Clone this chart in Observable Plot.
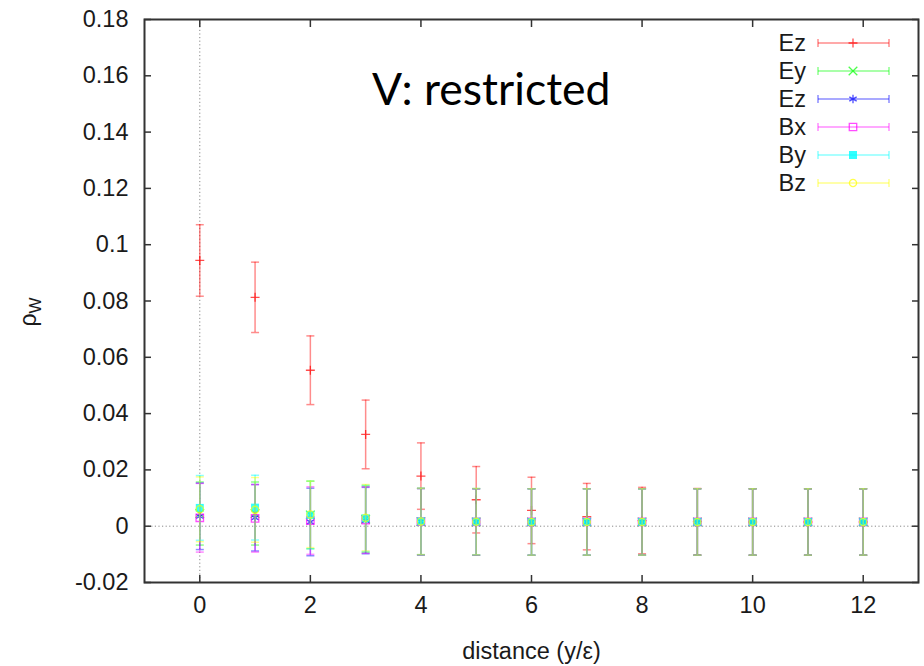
<!DOCTYPE html>
<html><head><meta charset="utf-8">
<script src="https://cdn.jsdelivr.net/npm/d3@7"></script>
<script src="https://cdn.jsdelivr.net/npm/@observablehq/plot@0.6"></script>
<style>
body{margin:0;background:#fff;}
#wrap{position:relative;width:924px;height:666px;overflow:hidden;background:#fff;}
</style>
</head><body><div id="wrap"></div>
<script>
// ---- data ----
const distance = [0,1,2,3,4,5,6,7,8,9,10,11,12];
const seriesNames = ["Ez","Ey","Ez","Bx","By","Bz"];
const seriesColors = ["#ff0000","#00ff00","#0000ff","#ff00ff","#00ffff","#ffff00"];
const ex1Vals = [0.0944,0.0813,0.0554,0.0326,0.0178,0.0094,0.0056,0.0034,0.0020,0.0016,0.0015,0.0015,0.0015];
const ex1Err  = [0.0127,0.0125,0.0122,0.0122,0.0118,0.0118,0.0118,0.0118,0.0118,0.0118,0.0118,0.0118,0.0118];
const eyVals  = [0.0045,0.0045,0.0040,0.0025,0.0016,0.0015,0.0015,0.0015,0.0015,0.0015,0.0015,0.0015,0.0015];
const eyErr   = [0.0112,0.0112,0.0120,0.0118,0.0118,0.0118,0.0118,0.0118,0.0118,0.0118,0.0118,0.0118,0.0118];
const ezVals  = [0.0035,0.0030,0.0015,0.0020,0.0016,0.0015,0.0015,0.0015,0.0015,0.0015,0.0015,0.0015,0.0015];
const ezErr   = [0.0118,0.0118,0.0120,0.0118,0.0118,0.0118,0.0118,0.0118,0.0118,0.0118,0.0118,0.0118,0.0118];
const bxVals  = [0.0030,0.0028,0.0020,0.0022,0.0016,0.0015,0.0015,0.0015,0.0015,0.0015,0.0015,0.0015,0.0015];
const bxErr   = [0.0122,0.0120,0.0120,0.0118,0.0118,0.0118,0.0118,0.0118,0.0118,0.0118,0.0118,0.0118,0.0118];
const byVals  = [0.0065,0.0066,0.0040,0.0028,0.0017,0.0016,0.0015,0.0015,0.0015,0.0015,0.0015,0.0015,0.0015];
const byErr   = [0.0115,0.0115,0.0120,0.0118,0.0118,0.0118,0.0118,0.0118,0.0118,0.0118,0.0118,0.0118,0.0118];
const bzVals  = [0.0060,0.0058,0.0042,0.0030,0.0017,0.0016,0.0015,0.0015,0.0015,0.0015,0.0015,0.0015,0.0015];
const bzErr   = [0.0115,0.0115,0.0118,0.0118,0.0118,0.0118,0.0118,0.0118,0.0118,0.0118,0.0118,0.0118,0.0118];
const yTicks = [-0.02,0,0.02,0.04,0.06,0.08,0.1,0.12,0.14,0.16,0.18];
const yTickLabels = ["-0.02","0","0.02","0.04","0.06","0.08","0.1","0.12","0.14","0.16","0.18"];
const xTicks = [0,2,4,6,8,10,12];
const xTickLabels = ["0","2","4","6","8","10","12"];
const titleText = "V: restricted";
const xLabel = "distance (y/ε)";

// ---- build ----
const valsList = [ex1Vals, eyVals, ezVals, bxVals, byVals, bzVals];
const errList = [ex1Err, eyErr, ezErr, bxErr, byErr, bzErr];
const symbols = [d3.symbolPlus, d3.symbolTimes, d3.symbolAsterisk, d3.symbolSquare, d3.symbolSquare, d3.symbolCircle];
const symR = [3.0, 4.0, 4.0, 4.2, 4.5, 3.6];
const filled = [false,false,false,false,true,false];
const hcap = {draw(ctx, size){ const w = Math.sqrt(size/Math.PI); ctx.moveTo(-w,0); ctx.lineTo(w,0);} };
const vcap = {draw(ctx, size){ const w = Math.sqrt(size/Math.PI); ctx.moveTo(0,-w); ctx.lineTo(0,w);} };
const OP = 0.45;
const FONT = "'Liberation Sans', Arial, sans-serif";

const marks = [
  Plot.ruleX([0], {stroke:"#888", strokeDasharray:"1.2,2.4", strokeWidth:1}),
  Plot.ruleY([0], {stroke:"#888", strokeDasharray:"1.2,2.4", strokeWidth:1}),
];
valsList.forEach((vals, s) => {
  const rows = distance.map((d, i) => ({d, v: vals[i], lo: vals[i] - errList[s][i], hi: vals[i] + errList[s][i]}));
  const c = seriesColors[s];
  marks.push(Plot.ruleX(rows, {x:"d", y1:"lo", y2:"hi", stroke:c, strokeOpacity:OP, strokeWidth:1.5}));
  marks.push(Plot.dot(rows, {x:"d", y:"lo", symbol:hcap, r:4, fill:"none", stroke:c, strokeOpacity:OP, strokeWidth:1.5}));
  marks.push(Plot.dot(rows, {x:"d", y:"hi", symbol:hcap, r:4, fill:"none", stroke:c, strokeOpacity:OP, strokeWidth:1.5}));
  marks.push(Plot.dot(rows, {x:"d", y:"v", symbol:symbols[s], r:symR[s],
    fill: filled[s] ? c : "none", fillOpacity: 0.8, stroke: filled[s] ? "none" : c, strokeOpacity:0.7, strokeWidth:1.3}));
});
marks.push(
  Plot.frame({stroke:"#333", strokeWidth:2}),
  Plot.axisY({ticks:yTicks, tickFormat:d => yTickLabels[yTicks.indexOf(d)], tickSize:-7, tickPadding:23, label:null, stroke:"#333", strokeWidth:1.5}),
  Plot.axisY({anchor:"right", ticks:yTicks, tickFormat:() => "", tickSize:-7, label:null, stroke:"#333", strokeWidth:1.5}),
  Plot.axisX({ticks:xTicks, tickFormat:d => xTickLabels[xTicks.indexOf(d)], tickSize:-7, tickPadding:21, label:xLabel, labelAnchor:"center", labelArrow:"none", labelOffset:76, stroke:"#333", strokeWidth:1.5}),
  Plot.axisX({anchor:"top", ticks:xTicks, tickFormat:() => "", tickSize:-7, label:null, stroke:"#333", strokeWidth:1.5})
);

const chart = Plot.plot({
  width:924, height:666,
  marginLeft:144, marginRight:6, marginTop:19, marginBottom:84,
  style:{fontFamily:FONT, fontSize:"23.5px", color:"#1a1a1a", background:"#fff", overflow:"visible"},
  x:{domain:[-1,13]},
  y:{domain:[-0.02,0.18]},
  marks
});
document.getElementById("wrap").appendChild(chart);

// ---- annotations: title, y label, legend ----
const svg = d3.select(chart);
svg.append("text").attr("x",372).attr("y",105).attr("text-anchor","start").attr("font-family","Lato, 'Open Sans', sans-serif")
  .attr("font-size",44.5).attr("fill","#000").text(titleText);

const yl = svg.append("text").attr("transform","translate(36,312) rotate(-90)")
  .attr("text-anchor","middle").attr("font-size",23).attr("fill","#1a1a1a");
yl.append("tspan").text("ρ");
yl.append("tspan").attr("font-size",17).attr("dy",5).text("W");

const lg = svg.append("g");
seriesNames.forEach((name, s) => {
  const y = 43 + 28*s, c = seriesColors[s];
  lg.append("text").attr("x",806).attr("y",y).attr("dy","0.36em").attr("text-anchor","end")
    .attr("font-size",23.5).attr("fill","#1a1a1a").text(name);
  lg.append("line").attr("x1",818).attr("x2",889).attr("y1",y).attr("y2",y)
    .attr("stroke",c).attr("stroke-opacity",OP).attr("stroke-width",1.5);
  [818,889].forEach(x => lg.append("path").attr("transform",`translate(${x},${y})`)
    .attr("d", d3.symbol(vcap, 16*Math.PI)()).attr("stroke",c).attr("stroke-opacity",OP).attr("stroke-width",1.5).attr("fill","none"));
  lg.append("path").attr("transform",`translate(853,${y})`)
    .attr("d", d3.symbol(symbols[s], symR[s]*symR[s]*Math.PI)())
    .attr("fill", filled[s] ? c : "none").attr("fill-opacity",0.8)
    .attr("stroke", filled[s] ? "none" : c).attr("stroke-opacity",0.7).attr("stroke-width",1.3);
});
</script>
</body></html>
